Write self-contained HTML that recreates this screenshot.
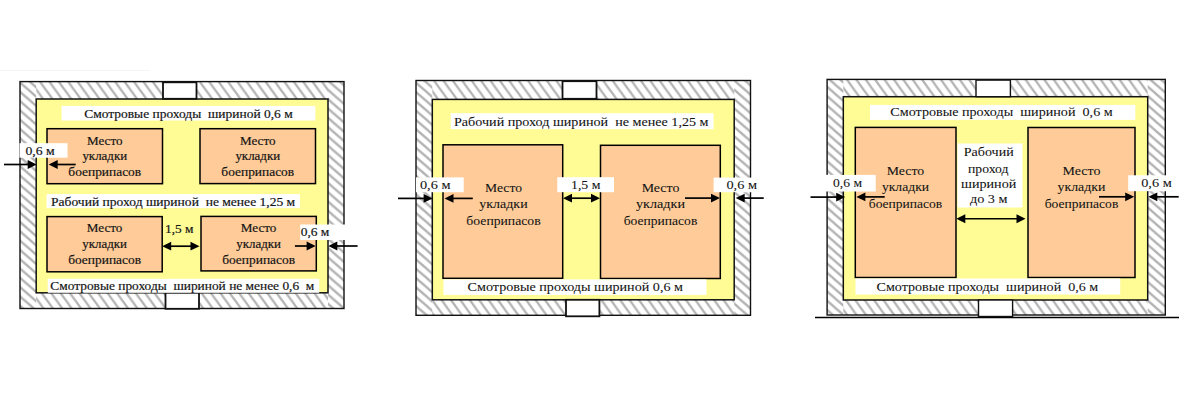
<!DOCTYPE html><html><head><meta charset="utf-8"><style>html,body{margin:0;padding:0;background:#fff;width:1182px;height:400px;overflow:hidden}svg{display:block}text{font-family:"Liberation Serif",serif}</style></head><body>
<svg width="1182" height="400" viewBox="0 0 1182 400" fill="#141414">
<defs>
<pattern id="hh" patternUnits="userSpaceOnUse" width="9.4" height="13.056"><path d="M-0.940 -1.306 L10.340 14.361 M-10.340 -1.306 L0.940 14.361 M8.460 -1.306 L19.740 14.361" stroke="#b3b3b3" stroke-width="2.3"/></pattern>
<pattern id="hv" patternUnits="userSpaceOnUse" width="10.695" height="9.3"><path d="M-1.070 -0.930 L11.765 10.230 M-11.765 -0.930 L1.070 10.230 M9.626 -0.930 L22.460 10.230" stroke="#b3b3b3" stroke-width="2.3"/></pattern>
</defs>
<line x1="0" y1="70.5" x2="150" y2="70.5" stroke="#f4f4f4" stroke-width="1"/>
<rect x="20" y="81.6" width="324" height="226.9" fill="#fff"/>
<rect x="36.2" y="81.6" width="291.8" height="17.4" fill="url(#hh)"/>
<rect x="36.2" y="292.8" width="291.8" height="15.7" fill="url(#hh)"/>
<rect x="20" y="81.6" width="16.2" height="226.9" fill="url(#hv)"/>
<rect x="328" y="81.6" width="16" height="226.9" fill="url(#hv)"/>
<rect x="20" y="81.6" width="324" height="226.9" fill="none" stroke="#111" stroke-width="1.4"/>
<rect x="36.2" y="99" width="291.8" height="193.8" fill="#FFFC96" stroke="#111" stroke-width="1.5"/>
<rect x="163" y="82.3" width="33.5" height="16.5" fill="#fff" stroke="#111" stroke-width="1.8"/>
<rect x="165.5" y="292.8" width="33.5" height="16" fill="#fff" stroke="#111" stroke-width="1.8"/>
<rect x="47" y="128.7" width="115.5" height="55" fill="#FFCC99" stroke="#000" stroke-width="1.5"/>
<rect x="200" y="128.7" width="115.5" height="54.9" fill="#FFCC99" stroke="#000" stroke-width="1.5"/>
<rect x="47" y="216.6" width="115.2" height="55.2" fill="#FFCC99" stroke="#000" stroke-width="1.5"/>
<rect x="201" y="216.4" width="115.3" height="54.5" fill="#FFCC99" stroke="#000" stroke-width="1.5"/>
<rect x="61.6" y="105.9" width="253.7" height="14.6" fill="#fff"/>
<text x="84.2" y="117.6" font-size="13.5" textLength="208.5" lengthAdjust="spacingAndGlyphs" stroke="#141414" stroke-width="0.2" xml:space="preserve">Смотровые проходы  шириной 0,6 м</text>
<rect x="46.6" y="194.1" width="253.4" height="14" fill="#fff"/>
<text x="51" y="205.9" font-size="13.5" textLength="244.2" lengthAdjust="spacingAndGlyphs" stroke="#141414" stroke-width="0.2" xml:space="preserve">Рабочий проход шириной  не менее 1,25 м</text>
<rect x="47.8" y="278.8" width="271.4" height="14" fill="#fff"/>
<text x="50.3" y="290.3" font-size="13.5" textLength="264" lengthAdjust="spacingAndGlyphs" stroke="#141414" stroke-width="0.2" xml:space="preserve">Смотровые проходы  шириной не менее 0,6  м</text>
<rect x="19.5" y="143.2" width="48" height="14.5" fill="#fff"/>
<text x="25.5" y="154.7" font-size="13.5" textLength="29.2" lengthAdjust="spacingAndGlyphs" stroke="#141414" stroke-width="0.2" xml:space="preserve">0,6 м</text>
<rect x="300.2" y="224.5" width="51.8" height="15.5" fill="#fff"/>
<text x="300.7" y="235.8" font-size="13.5" textLength="28.7" lengthAdjust="spacingAndGlyphs" stroke="#141414" stroke-width="0.2" xml:space="preserve">0,6 м</text>
<text x="165" y="232.5" font-size="13.5" textLength="28.5" lengthAdjust="spacingAndGlyphs" stroke="#141414" stroke-width="0.2" xml:space="preserve">1,5 м</text>
<text x="86.95" y="144.5" font-size="13.5" textLength="35.6" lengthAdjust="spacingAndGlyphs" stroke="#141414" stroke-width="0.2" xml:space="preserve">Место</text>
<text x="82.4" y="159.8" font-size="13.5" textLength="44.7" lengthAdjust="spacingAndGlyphs" stroke="#141414" stroke-width="0.2" xml:space="preserve">укладки</text>
<text x="68.35" y="176.3" font-size="13.5" textLength="72.8" lengthAdjust="spacingAndGlyphs" stroke="#141414" stroke-width="0.2" xml:space="preserve">боеприпасов</text>
<text x="239.95" y="144.5" font-size="13.5" textLength="35.6" lengthAdjust="spacingAndGlyphs" stroke="#141414" stroke-width="0.2" xml:space="preserve">Место</text>
<text x="235.4" y="159.8" font-size="13.5" textLength="44.7" lengthAdjust="spacingAndGlyphs" stroke="#141414" stroke-width="0.2" xml:space="preserve">укладки</text>
<text x="221.35" y="176.3" font-size="13.5" textLength="72.8" lengthAdjust="spacingAndGlyphs" stroke="#141414" stroke-width="0.2" xml:space="preserve">боеприпасов</text>
<text x="86.8" y="232.4" font-size="13.5" textLength="35.6" lengthAdjust="spacingAndGlyphs" stroke="#141414" stroke-width="0.2" xml:space="preserve">Место</text>
<text x="82.25" y="247.7" font-size="13.5" textLength="44.7" lengthAdjust="spacingAndGlyphs" stroke="#141414" stroke-width="0.2" xml:space="preserve">укладки</text>
<text x="68.2" y="264.2" font-size="13.5" textLength="72.8" lengthAdjust="spacingAndGlyphs" stroke="#141414" stroke-width="0.2" xml:space="preserve">боеприпасов</text>
<text x="240.8" y="232.2" font-size="13.5" textLength="35.6" lengthAdjust="spacingAndGlyphs" stroke="#141414" stroke-width="0.2" xml:space="preserve">Место</text>
<text x="236.25" y="247.5" font-size="13.5" textLength="44.7" lengthAdjust="spacingAndGlyphs" stroke="#141414" stroke-width="0.2" xml:space="preserve">укладки</text>
<text x="222.2" y="264" font-size="13.5" textLength="72.8" lengthAdjust="spacingAndGlyphs" stroke="#141414" stroke-width="0.2" xml:space="preserve">боеприпасов</text>
<line x1="4" y1="164.5" x2="30.7" y2="164.5" stroke="#000" stroke-width="1.7"/>
<path d="M36.7 164.5 L27.7 160.1 L27.7 168.9 Z" fill="#000"/>
<line x1="75.7" y1="164.5" x2="54.7" y2="164.5" stroke="#000" stroke-width="1.7"/>
<path d="M48.7 164.5 L57.7 160.1 L57.7 168.9 Z" fill="#000"/>
<line x1="168.2" y1="246.2" x2="193.5" y2="246.2" stroke="#000" stroke-width="1.7"/>
<path d="M162.2 246.2 L171.2 241.8 L171.2 250.6 Z" fill="#000"/>
<path d="M199.5 246.2 L190.5 241.8 L190.5 250.6 Z" fill="#000"/>
<line x1="294.9" y1="246" x2="309.6" y2="246" stroke="#000" stroke-width="1.7"/>
<path d="M315.6 246 L306.6 241.6 L306.6 250.4 Z" fill="#000"/>
<line x1="357.6" y1="246" x2="334.3" y2="246" stroke="#000" stroke-width="1.7"/>
<path d="M328.3 246 L337.3 241.6 L337.3 250.4 Z" fill="#000"/>
<rect x="416" y="80.5" width="334.5" height="234.8" fill="#fff"/>
<rect x="432.3" y="80.5" width="301.9" height="18.9" fill="url(#hh)"/>
<rect x="432.3" y="299.8" width="301.9" height="15.5" fill="url(#hh)"/>
<rect x="416" y="80.5" width="16.3" height="234.8" fill="url(#hv)"/>
<rect x="734.2" y="80.5" width="16.3" height="234.8" fill="url(#hv)"/>
<rect x="416" y="80.5" width="334.5" height="234.8" fill="none" stroke="#111" stroke-width="1.4"/>
<rect x="432.3" y="99.4" width="301.9" height="200.4" fill="#FFFC96" stroke="#111" stroke-width="1.5"/>
<rect x="562.5" y="81.2" width="34" height="17.6" fill="#fff" stroke="#111" stroke-width="1.8"/>
<rect x="566" y="299.8" width="33.4" height="16.5" fill="#fff" stroke="#111" stroke-width="1.8"/>
<rect x="443" y="144.8" width="119.7" height="133.5" fill="#FFCC99" stroke="#000" stroke-width="1.5"/>
<rect x="600.5" y="145.3" width="119.8" height="133.2" fill="#FFCC99" stroke="#000" stroke-width="1.5"/>
<rect x="450.7" y="113.2" width="262.9" height="16" fill="#fff"/>
<text x="454" y="125.5" font-size="13.5" textLength="254.5" lengthAdjust="spacingAndGlyphs" stroke="#141414" stroke-width="0.08" xml:space="preserve">Рабочий проход шириной  не менее 1,25 м</text>
<rect x="443.5" y="279.4" width="263" height="15.5" fill="#fff"/>
<text x="467.6" y="291.4" font-size="13.5" textLength="215.4" lengthAdjust="spacingAndGlyphs" stroke="#141414" stroke-width="0.08" xml:space="preserve">Смотровые проходы шириной 0,6 м</text>
<rect x="416" y="177.4" width="47.7" height="14.8" fill="#fff"/>
<text x="419.9" y="189.3" font-size="13.5" textLength="30.6" lengthAdjust="spacingAndGlyphs" stroke="#141414" stroke-width="0.08" xml:space="preserve">0,6 м</text>
<rect x="557.3" y="177.2" width="56.7" height="15" fill="#fff"/>
<text x="571" y="189.3" font-size="13.5" textLength="29.5" lengthAdjust="spacingAndGlyphs" stroke="#141414" stroke-width="0.08" xml:space="preserve">1,5 м</text>
<rect x="713.6" y="177.6" width="56.4" height="14.6" fill="#fff"/>
<text x="726.4" y="189.3" font-size="13.5" textLength="30.6" lengthAdjust="spacingAndGlyphs" stroke="#141414" stroke-width="0.08" xml:space="preserve">0,6 м</text>
<text x="485" y="191.5" font-size="13.5" textLength="37" lengthAdjust="spacingAndGlyphs" stroke="#141414" stroke-width="0.08" xml:space="preserve">Место</text>
<text x="479.35" y="207.7" font-size="13.5" textLength="48.3" lengthAdjust="spacingAndGlyphs" stroke="#141414" stroke-width="0.08" xml:space="preserve">укладки</text>
<text x="466.35" y="225.2" font-size="13.5" textLength="74.3" lengthAdjust="spacingAndGlyphs" stroke="#141414" stroke-width="0.08" xml:space="preserve">боеприпасов</text>
<text x="641.65" y="191.7" font-size="13.5" textLength="37.7" lengthAdjust="spacingAndGlyphs" stroke="#141414" stroke-width="0.08" xml:space="preserve">Место</text>
<text x="636" y="207.7" font-size="13.5" textLength="49" lengthAdjust="spacingAndGlyphs" stroke="#141414" stroke-width="0.08" xml:space="preserve">укладки</text>
<text x="623.7" y="225.2" font-size="13.5" textLength="73.6" lengthAdjust="spacingAndGlyphs" stroke="#141414" stroke-width="0.08" xml:space="preserve">боеприпасов</text>
<line x1="398" y1="198.4" x2="426.6" y2="198.4" stroke="#000" stroke-width="1.7"/>
<path d="M432.6 198.4 L423.6 194 L423.6 202.8 Z" fill="#000"/>
<line x1="472.8" y1="198.4" x2="450.5" y2="198.4" stroke="#000" stroke-width="1.7"/>
<path d="M444.5 198.4 L453.5 194 L453.5 202.8 Z" fill="#000"/>
<line x1="569" y1="198.2" x2="594" y2="198.2" stroke="#000" stroke-width="1.7"/>
<path d="M563 198.2 L572 193.8 L572 202.6 Z" fill="#000"/>
<path d="M600 198.2 L591 193.8 L591 202.6 Z" fill="#000"/>
<line x1="685" y1="198.1" x2="714" y2="198.1" stroke="#000" stroke-width="1.7"/>
<path d="M720 198.1 L711 193.7 L711 202.5 Z" fill="#000"/>
<line x1="763.7" y1="198.1" x2="741.7" y2="198.1" stroke="#000" stroke-width="1.7"/>
<path d="M735.7 198.1 L744.7 193.7 L744.7 202.5 Z" fill="#000"/>
<line x1="815" y1="317.5" x2="1179" y2="317.5" stroke="#000" stroke-width="1.5"/>
<rect x="827.1" y="79.4" width="338.2" height="235.6" fill="#fff"/>
<rect x="843.3" y="79.4" width="304.4" height="17.3" fill="url(#hh)"/>
<rect x="843.3" y="300" width="304.4" height="15" fill="url(#hh)"/>
<rect x="827.1" y="79.4" width="16.2" height="235.6" fill="url(#hv)"/>
<rect x="1147.7" y="79.4" width="17.6" height="235.6" fill="url(#hv)"/>
<rect x="827.1" y="79.4" width="338.2" height="235.6" fill="none" stroke="#111" stroke-width="1.4"/>
<rect x="843.3" y="96.7" width="304.4" height="203.3" fill="#FFFC96" stroke="#111" stroke-width="1.5"/>
<rect x="976" y="80.1" width="34.4" height="16.6" fill="#fff" stroke="#111" stroke-width="1.4"/>
<rect x="978.5" y="300" width="34.1" height="16.5" fill="#fff" stroke="#111" stroke-width="1.4"/>
<rect x="855.3" y="127.4" width="100.7" height="150.1" fill="#FFCC99" stroke="#000" stroke-width="1.5"/>
<rect x="1028" y="127.5" width="107" height="150" fill="#FFCC99" stroke="#000" stroke-width="1.5"/>
<rect x="870" y="104.9" width="265.3" height="15" fill="#fff"/>
<text x="890.3" y="116.4" font-size="13.5" textLength="222.4" lengthAdjust="spacingAndGlyphs" stroke="#141414" stroke-width="0.08" xml:space="preserve">Смотровые проходы  шириной  0,6 м</text>
<rect x="855.5" y="278.5" width="264.7" height="16" fill="#fff"/>
<text x="876.5" y="291" font-size="13.5" textLength="221.8" lengthAdjust="spacingAndGlyphs" stroke="#141414" stroke-width="0.08" xml:space="preserve">Смотровые проходы  шириной  0,6 м</text>
<rect x="957.6" y="143.5" width="64.8" height="64" fill="#fff"/>
<text x="963.8" y="155.8" font-size="13.5" textLength="49.9" lengthAdjust="spacingAndGlyphs" stroke="#141414" stroke-width="0.08" xml:space="preserve">Рабочий</text>
<text x="968" y="173.3" font-size="13.5" textLength="40.4" lengthAdjust="spacingAndGlyphs" stroke="#141414" stroke-width="0.08" xml:space="preserve">проход</text>
<text x="961" y="188.2" font-size="13.5" textLength="55.3" lengthAdjust="spacingAndGlyphs" stroke="#141414" stroke-width="0.08" xml:space="preserve">шириной</text>
<text x="969.9" y="203" font-size="13.5" textLength="37.6" lengthAdjust="spacingAndGlyphs" stroke="#141414" stroke-width="0.08" xml:space="preserve">до 3 м</text>
<rect x="826" y="174.9" width="49.7" height="16.6" fill="#fff"/>
<text x="833" y="187.3" font-size="13.5" textLength="29" lengthAdjust="spacingAndGlyphs" stroke="#141414" stroke-width="0.08" xml:space="preserve">0,6 м</text>
<rect x="1128.2" y="175.3" width="53.8" height="15.9" fill="#fff"/>
<text x="1141.2" y="187.3" font-size="13.5" textLength="30.5" lengthAdjust="spacingAndGlyphs" stroke="#141414" stroke-width="0.08" xml:space="preserve">0,6 м</text>
<text x="886.75" y="174.5" font-size="13.5" textLength="37.5" lengthAdjust="spacingAndGlyphs" stroke="#141414" stroke-width="0.08" xml:space="preserve">Место</text>
<text x="881.9" y="191" font-size="13.5" textLength="47.2" lengthAdjust="spacingAndGlyphs" stroke="#141414" stroke-width="0.08" xml:space="preserve">укладки</text>
<text x="868.75" y="208.2" font-size="13.5" textLength="73.5" lengthAdjust="spacingAndGlyphs" stroke="#141414" stroke-width="0.08" xml:space="preserve">боеприпасов</text>
<text x="1062.5" y="174.5" font-size="13.5" textLength="38" lengthAdjust="spacingAndGlyphs" stroke="#141414" stroke-width="0.08" xml:space="preserve">Место</text>
<text x="1057.5" y="191" font-size="13.5" textLength="48" lengthAdjust="spacingAndGlyphs" stroke="#141414" stroke-width="0.08" xml:space="preserve">укладки</text>
<text x="1044.7" y="208.2" font-size="13.5" textLength="73.6" lengthAdjust="spacingAndGlyphs" stroke="#141414" stroke-width="0.08" xml:space="preserve">боеприпасов</text>
<line x1="810.5" y1="197.1" x2="839.2" y2="197.1" stroke="#000" stroke-width="1.7"/>
<path d="M845.2 197.1 L836.2 192.7 L836.2 201.5 Z" fill="#000"/>
<line x1="884.7" y1="196.9" x2="862.4" y2="196.9" stroke="#000" stroke-width="1.7"/>
<path d="M856.4 196.9 L865.4 192.5 L865.4 201.3 Z" fill="#000"/>
<line x1="962.3" y1="218.75" x2="1019.5" y2="218.75" stroke="#000" stroke-width="1.7"/>
<path d="M956.3 218.75 L965.3 214.35 L965.3 223.15 Z" fill="#000"/>
<path d="M1025.5 218.75 L1016.5 214.35 L1016.5 223.15 Z" fill="#000"/>
<line x1="1099" y1="196.8" x2="1128.2" y2="196.8" stroke="#000" stroke-width="1.7"/>
<path d="M1134.2 196.8 L1125.2 192.4 L1125.2 201.2 Z" fill="#000"/>
<line x1="1178.7" y1="196.8" x2="1154.3" y2="196.8" stroke="#000" stroke-width="1.7"/>
<path d="M1148.3 196.8 L1157.3 192.4 L1157.3 201.2 Z" fill="#000"/>
</svg></body></html>
